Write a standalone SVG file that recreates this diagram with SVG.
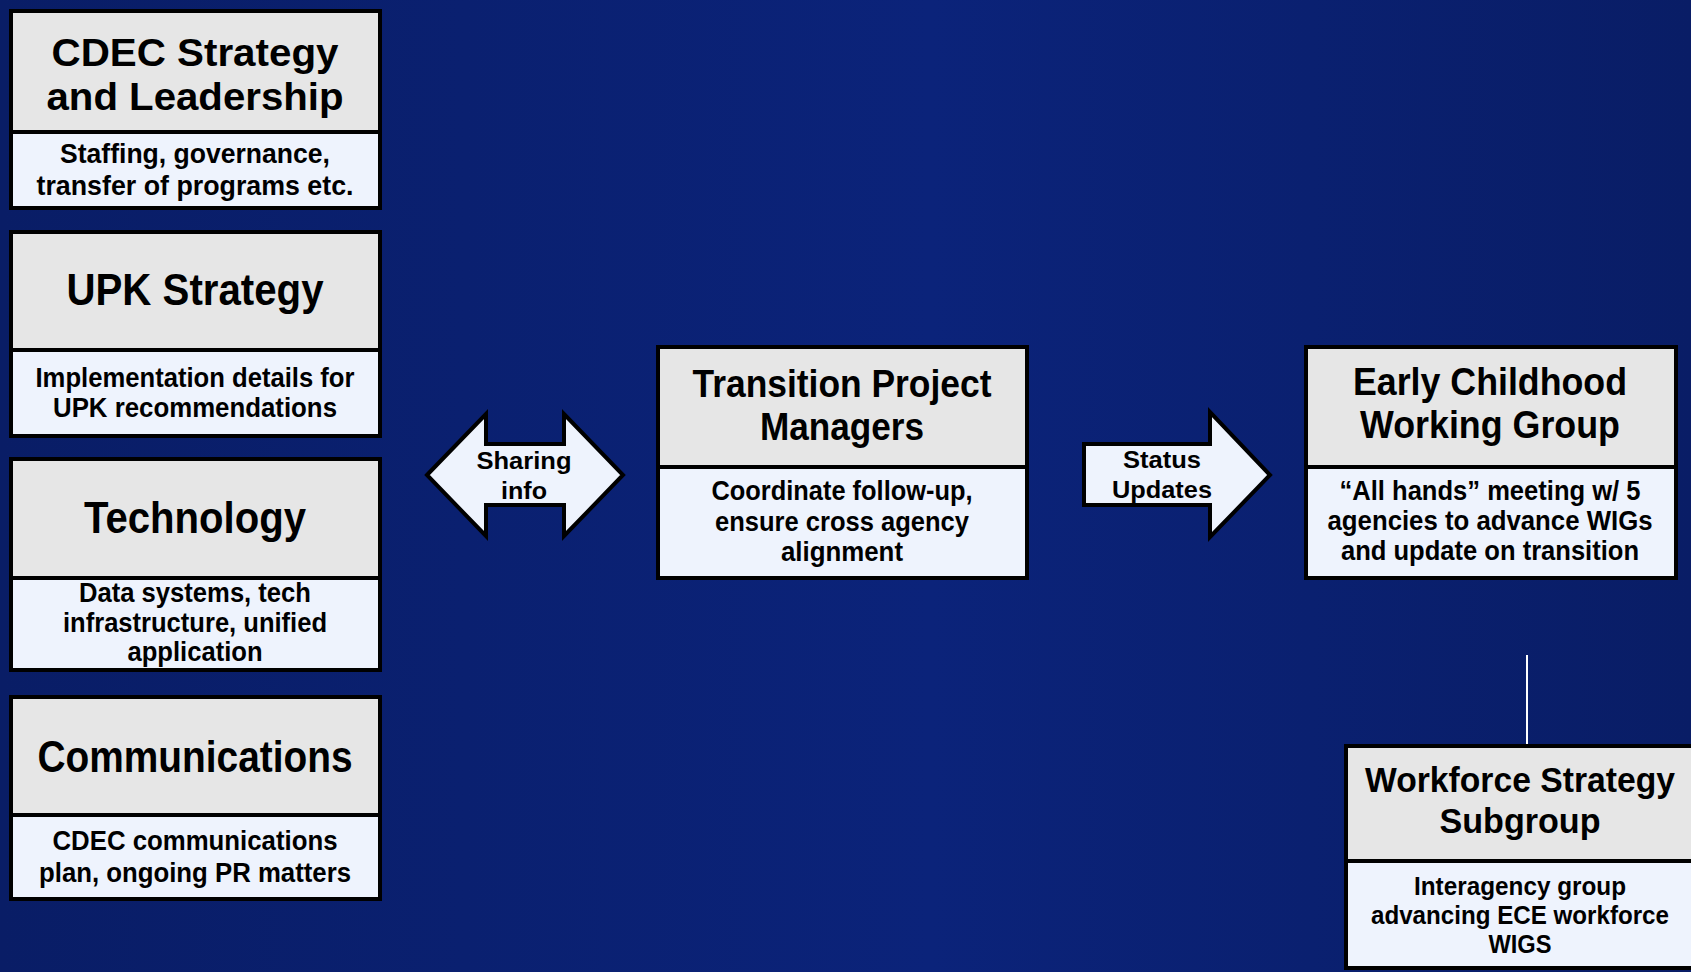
<svg xmlns="http://www.w3.org/2000/svg" width="1691" height="972" viewBox="0 0 1691 972">
<defs>
<linearGradient id="bg" x1="0" y1="0" x2="1" y2="0">
<stop offset="0" stop-color="#091d66"/>
<stop offset="0.55" stop-color="#0b237a"/>
<stop offset="1" stop-color="#091d66"/>
</linearGradient>
<style>
.hd{fill:#e6e6e6}
.bd{fill:#eef3fd}
.fr{fill:none;stroke:#000;stroke-width:4}
.dv{stroke:#000;stroke-width:4}
text{font-family:"Liberation Sans",Arial,sans-serif;font-weight:bold;fill:#000;text-anchor:middle}
.t1{font-size:44px}
.t1b{font-size:38.5px}
.t2{font-size:38px}
.t3{font-size:35px}
.s{font-size:27px}
.s2{font-size:25px}
.a{font-size:24px}
.arrow{fill:#eef3fd;stroke:#000;stroke-width:4;stroke-linejoin:miter}
</style>
</defs>
<rect width="1691" height="972" fill="url(#bg)"/>

<g id="connectors">
<line x1="1527" y1="655" x2="1527" y2="746" stroke="#fff" stroke-width="2"/>
<g id="sharing-arrow">
<polygon class="arrow" points="427,475 486,414 486,444 564,444 564,414 623,475 564,536 564,505 486,505 486,536"/>
<text class="a" x="524" y="469" textLength="95" lengthAdjust="spacingAndGlyphs">Sharing</text>
<text class="a" x="524" y="499" textLength="46" lengthAdjust="spacingAndGlyphs">info</text>
</g>
<g id="status-arrow">
<polygon class="arrow" points="1084,444 1210,444 1210,412 1270,475 1210,537 1210,505 1084,505"/>
<text class="a" x="1162" y="468" textLength="78" lengthAdjust="spacingAndGlyphs">Status</text>
<text class="a" x="1162" y="498" textLength="100" lengthAdjust="spacingAndGlyphs">Updates</text>
</g>
</g>

<g id="cdec">
<rect class="hd" x="11" y="11" width="369" height="121"/>
<rect class="bd" x="11" y="132" width="369" height="76"/>
<rect class="fr" x="11" y="11" width="369" height="197"/>
<line class="dv" x1="11" y1="132" x2="380" y2="132"/>
<text class="t1b" x="195" y="66" textLength="287" lengthAdjust="spacingAndGlyphs">CDEC Strategy</text>
<text class="t1b" x="195" y="110" textLength="297" lengthAdjust="spacingAndGlyphs">and Leadership</text>
<text class="s" x="195" y="163" textLength="270" lengthAdjust="spacingAndGlyphs">Staffing, governance,</text>
<text class="s" x="195" y="195" textLength="317" lengthAdjust="spacingAndGlyphs">transfer of programs etc.</text>
</g>

<g id="upk">
<rect class="hd" x="11" y="232" width="369" height="118"/>
<rect class="bd" x="11" y="350" width="369" height="86"/>
<rect class="fr" x="11" y="232" width="369" height="204"/>
<line class="dv" x1="11" y1="350" x2="380" y2="350"/>
<text class="t1" x="195" y="305" textLength="257" lengthAdjust="spacingAndGlyphs">UPK Strategy</text>
<text class="s" x="195" y="387" textLength="319" lengthAdjust="spacingAndGlyphs">Implementation details for</text>
<text class="s" x="195" y="417" textLength="284" lengthAdjust="spacingAndGlyphs">UPK recommendations</text>
</g>

<g id="technology">
<rect class="hd" x="11" y="459" width="369" height="119"/>
<rect class="bd" x="11" y="578" width="369" height="92"/>
<rect class="fr" x="11" y="459" width="369" height="211"/>
<line class="dv" x1="11" y1="578" x2="380" y2="578"/>
<text class="t1" x="195" y="533" textLength="222" lengthAdjust="spacingAndGlyphs">Technology</text>
<text class="s" x="195" y="602" textLength="232" lengthAdjust="spacingAndGlyphs">Data systems, tech</text>
<text class="s" x="195" y="632" textLength="264" lengthAdjust="spacingAndGlyphs">infrastructure, unified</text>
<text class="s" x="195" y="661" textLength="135" lengthAdjust="spacingAndGlyphs">application</text>
</g>

<g id="communications">
<rect class="hd" x="11" y="697" width="369" height="118"/>
<rect class="bd" x="11" y="815" width="369" height="84"/>
<rect class="fr" x="11" y="697" width="369" height="202"/>
<line class="dv" x1="11" y1="815" x2="380" y2="815"/>
<text class="t1" x="195" y="772" textLength="315" lengthAdjust="spacingAndGlyphs">Communications</text>
<text class="s" x="195" y="850" textLength="285" lengthAdjust="spacingAndGlyphs">CDEC communications</text>
<text class="s" x="195" y="882" textLength="312" lengthAdjust="spacingAndGlyphs">plan, ongoing PR matters</text>
</g>

<g id="tpm">
<rect class="hd" x="658" y="347" width="369" height="120"/>
<rect class="bd" x="658" y="467" width="369" height="111"/>
<rect class="fr" x="658" y="347" width="369" height="231"/>
<line class="dv" x1="658" y1="467" x2="1027" y2="467"/>
<text class="t2" x="842" y="397" textLength="299" lengthAdjust="spacingAndGlyphs">Transition Project</text>
<text class="t2" x="842" y="440" textLength="164" lengthAdjust="spacingAndGlyphs">Managers</text>
<text class="s" x="842" y="500" textLength="261" lengthAdjust="spacingAndGlyphs">Coordinate follow-up,</text>
<text class="s" x="842" y="531" textLength="254" lengthAdjust="spacingAndGlyphs">ensure cross agency</text>
<text class="s" x="842" y="561" textLength="122" lengthAdjust="spacingAndGlyphs">alignment</text>
</g>

<g id="ecwg">
<rect class="hd" x="1306" y="347" width="370" height="120"/>
<rect class="bd" x="1306" y="467" width="370" height="111"/>
<rect class="fr" x="1306" y="347" width="370" height="231"/>
<line class="dv" x1="1306" y1="467" x2="1676" y2="467"/>
<text class="t2" x="1490" y="395" textLength="274" lengthAdjust="spacingAndGlyphs">Early Childhood</text>
<text class="t2" x="1490" y="438" textLength="260" lengthAdjust="spacingAndGlyphs">Working Group</text>
<text class="s" x="1490" y="500" textLength="301" lengthAdjust="spacingAndGlyphs">“All hands” meeting w/ 5</text>
<text class="s" x="1490" y="530" textLength="325" lengthAdjust="spacingAndGlyphs">agencies to advance WIGs</text>
<text class="s" x="1490" y="560" textLength="298" lengthAdjust="spacingAndGlyphs">and update on transition</text>
</g>

<g id="wss">
<rect class="hd" x="1346" y="746" width="360" height="115"/>
<rect class="bd" x="1346" y="861" width="360" height="107"/>
<rect class="fr" x="1346" y="746" width="360" height="222"/>
<line class="dv" x1="1346" y1="861" x2="1706" y2="861"/>
<text class="t3" x="1520" y="792" textLength="310" lengthAdjust="spacingAndGlyphs">Workforce Strategy</text>
<text class="t3" x="1520" y="833" textLength="161" lengthAdjust="spacingAndGlyphs">Subgroup</text>
<text class="s2" x="1520" y="895" textLength="212" lengthAdjust="spacingAndGlyphs">Interagency group</text>
<text class="s2" x="1520" y="924" textLength="298" lengthAdjust="spacingAndGlyphs">advancing ECE workforce</text>
<text class="s2" x="1520" y="953" textLength="63" lengthAdjust="spacingAndGlyphs">WIGS</text>
</g>
</svg>
